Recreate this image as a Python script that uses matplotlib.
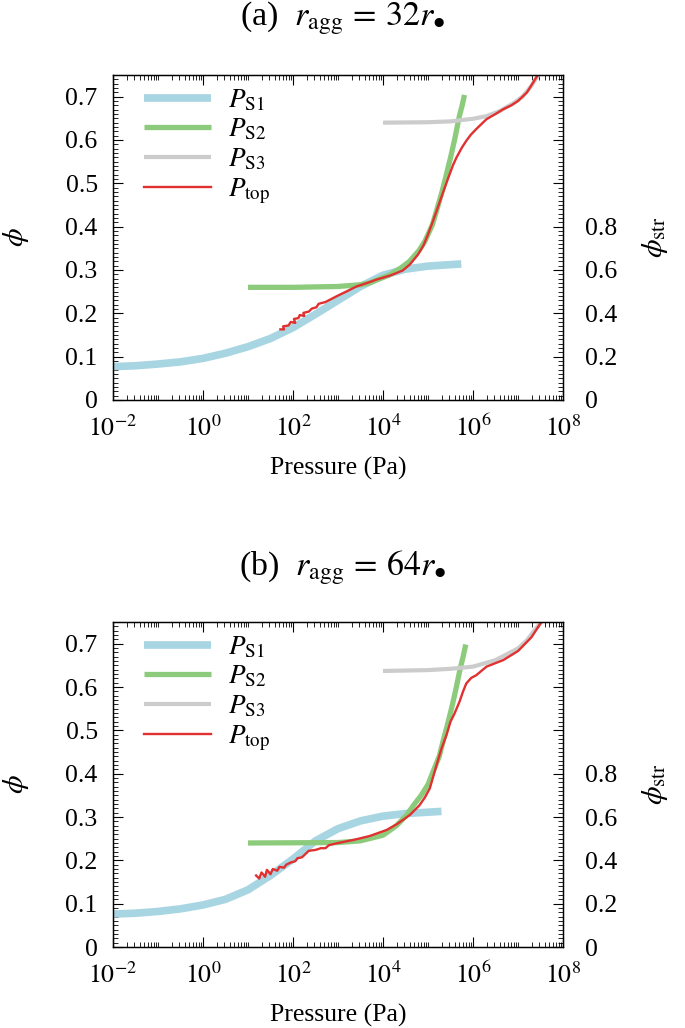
import numpy as np
import matplotlib
matplotlib.use("Agg")
import matplotlib.pyplot as plt
from matplotlib.ticker import LogLocator, MultipleLocator, FixedLocator, NullFormatter, FuncFormatter

plt.rcParams['font.family'] = ['Liberation Serif', 'DejaVu Serif']
plt.rcParams['mathtext.fontset'] = 'stix'

# ---- panel (a): r_agg = 32 r0 ----
a_s1_logp = [-2, -1.5, -1, -0.5, 0, 0.5, 1, 1.5, 2, 2.5, 3, 3.5, 4, 4.5, 5, 5.74]
a_s1_phi = [0.077, 0.079, 0.083, 0.088, 0.096, 0.108, 0.123, 0.142, 0.167, 0.198, 0.230, 0.262, 0.288, 0.302, 0.309, 0.314]

a_s2_logp = [1, 2, 3, 3.5, 3.7, 4.15, 4.4, 4.59, 4.8, 4.93, 5.1, 5.21, 5.31, 5.41, 5.5, 5.6, 5.69, 5.76, 5.81]
a_s2_phi = [0.260, 0.260, 0.262, 0.266, 0.270, 0.289, 0.305, 0.320, 0.345, 0.366, 0.405, 0.444, 0.480, 0.521, 0.559, 0.605, 0.652, 0.680, 0.704]

a_s3_logp = [4, 5, 5.5, 6, 6.3, 6.6, 6.9, 7.1, 7.3, 7.45]
a_s3_phi = [0.640, 0.641, 0.643, 0.649, 0.655, 0.667, 0.685, 0.700, 0.725, 0.750]

a_top_logp = [1.72, 1.80, 1.78, 1.90, 1.95, 2.05, 2.02, 2.12, 2.15, 2.25, 2.23, 2.35, 2.42, 2.52,
              2.57, 2.72, 2.85, 3.0, 3.2, 3.41, 3.7, 3.86, 4.15, 4.3, 4.44, 4.6, 4.78, 4.9, 5.0,
              5.1, 5.19, 5.32, 5.48, 5.56, 5.63, 5.75, 5.85, 5.95, 6.07, 6.3, 6.5, 6.67, 6.85,
              7.0, 7.2, 7.44]
a_top_phi = [0.163, 0.163, 0.170, 0.172, 0.180, 0.178, 0.187, 0.189, 0.196, 0.194, 0.201, 0.204, 0.211, 0.214,
             0.222, 0.226, 0.233, 0.241, 0.251, 0.262, 0.272, 0.278, 0.287, 0.293, 0.299, 0.313, 0.336, 0.357, 0.382,
             0.410, 0.436, 0.475, 0.521, 0.543, 0.559, 0.582, 0.598, 0.612, 0.625, 0.648, 0.660, 0.671, 0.680,
             0.690, 0.710, 0.750]

# ---- panel (b): r_agg = 64 r0 ----
b_s1_logp = [-2, -1.5, -1, -0.5, 0, 0.5, 1, 1.5, 2, 2.5, 3, 3.5, 4, 4.5, 5.3]
b_s1_phi = [0.076, 0.078, 0.082, 0.088, 0.097, 0.110, 0.132, 0.165, 0.203, 0.245, 0.273, 0.291, 0.302, 0.308, 0.313]

b_s2_logp = [1, 3, 3.5, 4.0, 4.3, 4.52, 4.7, 4.85, 5.0, 5.11, 5.25, 5.35, 5.45, 5.54, 5.62, 5.70, 5.78, 5.84]
b_s2_phi = [0.240, 0.241, 0.245, 0.258, 0.280, 0.304, 0.330, 0.350, 0.375, 0.404, 0.440, 0.481, 0.520, 0.558, 0.595, 0.635, 0.670, 0.698]

b_s3_logp = [4, 5, 5.5, 6, 6.5, 7, 7.2, 7.4, 7.52]
b_s3_phi = [0.637, 0.639, 0.642, 0.647, 0.662, 0.689, 0.708, 0.735, 0.750]

b_top_logp = [1.18, 1.25, 1.30, 1.38, 1.42, 1.50, 1.55, 1.65, 1.70, 1.80, 1.85, 1.95, 2.05, 2.10, 2.20,
              2.28, 2.35, 2.50, 2.62, 2.72, 2.80, 3.0, 3.34, 3.7, 4.08, 4.3, 4.44, 4.6, 4.81, 4.93,
              5.04, 5.19, 5.30, 5.41, 5.5, 5.59, 5.70, 5.78, 5.85, 5.96, 6.07, 6.3, 6.67, 7.0, 7.3, 7.52]
b_top_phi = [0.165, 0.158, 0.172, 0.162, 0.178, 0.168, 0.180, 0.176, 0.185, 0.183, 0.190, 0.195, 0.198, 0.205, 0.207,
             0.215, 0.222, 0.224, 0.228, 0.228, 0.235, 0.240, 0.247, 0.256, 0.270, 0.283, 0.293, 0.305, 0.327, 0.345,
             0.366, 0.420, 0.458, 0.489, 0.520, 0.539, 0.566, 0.590, 0.608, 0.621, 0.627, 0.647, 0.662, 0.683, 0.715, 0.750]

panels = [
    (r'(a)  $r_{\rm agg}\,=\,32r_{•}$', a_s1_logp, a_s1_phi, a_s2_logp, a_s2_phi,
     a_s3_logp, a_s3_phi, a_top_logp, a_top_phi),
    (r'(b)  $r_{\rm agg}\,=\,64r_{•}$', b_s1_logp, b_s1_phi, b_s2_logp, b_s2_phi,
     b_s3_logp, b_s3_phi, b_top_logp, b_top_phi),
]

c_s1 = '#a8d5e2'
c_s2 = '#8dcb7c'
c_s3 = '#cccccc'
c_top = '#e03030'

fig = plt.figure(figsize=(6.85, 10.28), dpi=100)
W, H = 685.0, 1028.0
ax_left, ax_w, ax_h = 113 / W, 450 / W, 325 / H
bottoms = [1 - 400 / H, 1 - 947 / H]
title_y = [1 - 18 / H, 1 - 567 / H]

fs = 18.5


def log_fmt(v, pos):
    return r'$10^{%d}$' % int(round(np.log10(v)))


for k, (title, s1x, s1y, s2x, s2y, s3x, s3y, tx, ty) in enumerate(panels):
    ax = fig.add_axes([ax_left, bottoms[k], ax_w, ax_h])
    ax.plot(10 ** np.array(s1x), s1y, color=c_s1, lw=5.5, solid_capstyle='butt',
            solid_joinstyle='round', label=r'$P_{\rm S1}$')
    ax.plot(10 ** np.array(s2x), s2y, color=c_s2, lw=3.8, solid_capstyle='butt',
            solid_joinstyle='round', label=r'$P_{\rm S2}$')
    ax.plot(10 ** np.array(s3x), s3y, color=c_s3, lw=3.0, solid_capstyle='butt',
            solid_joinstyle='round', label=r'$P_{\rm S3}$')
    ax.plot(10 ** np.array(tx), ty, color=c_top, lw=1.7, label=r'$P_{\rm top}$')

    ax.set_xscale('log')
    ax.set_xlim(1e-2, 1e8)
    ax.set_ylim(0, 0.75)
    ax.xaxis.set_major_locator(FixedLocator([1e-2, 1e0, 1e2, 1e4, 1e6, 1e8]))
    ax.xaxis.set_major_formatter(FuncFormatter(log_fmt))
    ax.xaxis.set_minor_locator(LogLocator(base=10, subs=np.arange(1, 10), numticks=40))
    ax.xaxis.set_minor_formatter(NullFormatter())
    ax.yaxis.set_major_locator(MultipleLocator(0.1))
    ax.yaxis.set_minor_locator(MultipleLocator(0.01))
    ax.yaxis.set_major_formatter(FuncFormatter(lambda v, p: '0' if abs(v) < 1e-9 else '%.1f' % v))
    ax.tick_params(which='both', direction='in', top=True, right=False, labelsize=fs)
    ax.tick_params(which='major', length=7, width=0.8)
    ax.tick_params(which='minor', length=3.5, width=0.6)
    ax.tick_params(axis='x', pad=11)
    ax.tick_params(axis='y', pad=11)
    ax.set_xlabel('Pressure (Pa)', fontsize=fs, labelpad=11)
    ax.set_ylabel(r'$\phi$', fontsize=fs + 3, labelpad=25)
    for sp in ax.spines.values():
        sp.set_linewidth(1.0)

    ax2 = ax.twinx()
    ax2.set_ylim(0, 1.5)
    ax2.yaxis.set_major_locator(MultipleLocator(0.2))
    ax2.yaxis.set_minor_locator(MultipleLocator(0.02))
    ax2.yaxis.set_major_formatter(FuncFormatter(
        lambda v, p: ('0' if abs(v) < 1e-9 else '%.1f' % v) if v < 0.85 else ''))
    ax2.tick_params(which='both', direction='in', labelsize=fs, pad=16)
    ax2.tick_params(which='major', length=7, width=0.8)
    ax2.tick_params(which='minor', length=3.5, width=0.6)
    ax2.set_ylabel(r'$\phi_{\rm str}$', fontsize=fs + 3, labelpad=16)

    ax.legend(loc='upper left', frameon=False, fontsize=fs + 1, handlelength=2.5,
              handletextpad=0.6, labelspacing=0.15, borderaxespad=0.0,
              bbox_to_anchor=(0.044, 0.995))

    fig.text(0.5, title_y[k], title, ha='center', va='center', fontsize=24.5)

fig.savefig('out.png', dpi=100)
